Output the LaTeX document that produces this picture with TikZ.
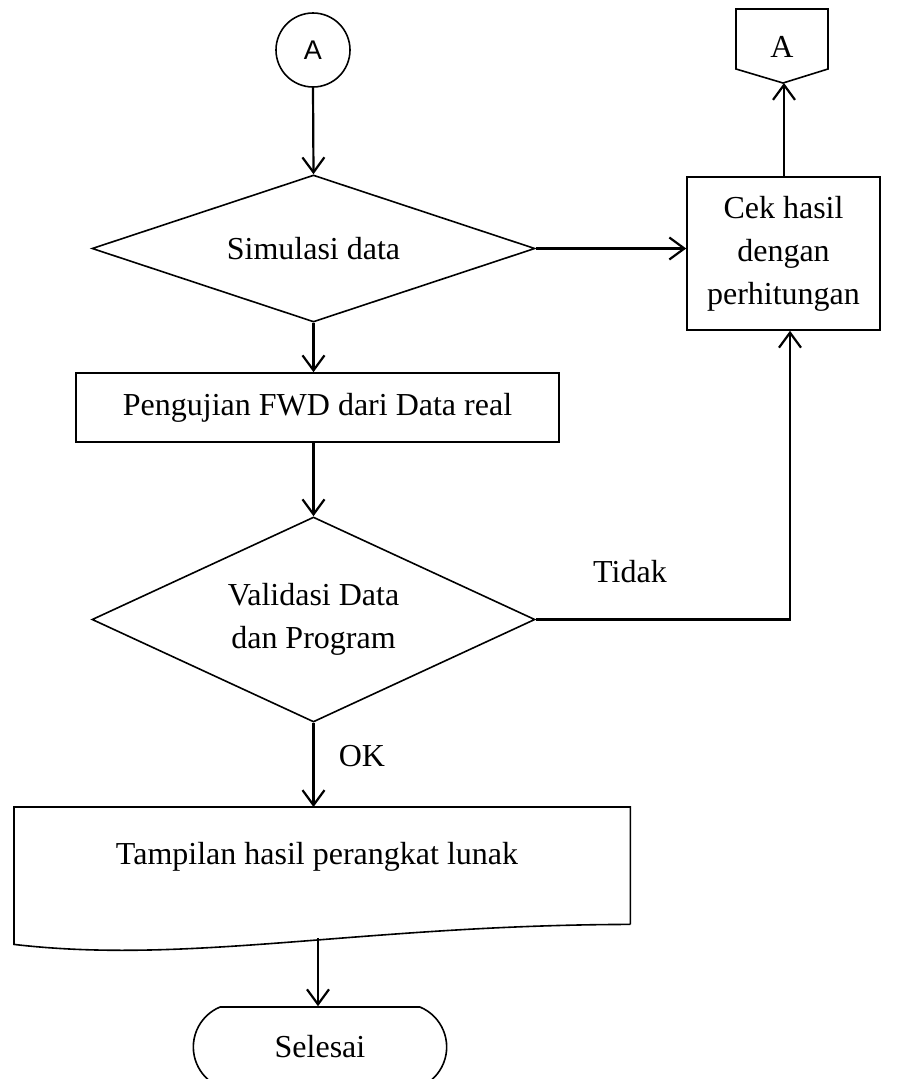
\documentclass[tikz,border=0pt]{standalone}
\usepackage{fontspec}
\setmainfont{Liberation Serif}
\newfontfamily\arialfont{Liberation Sans}
\usetikzlibrary{shapes.geometric,shapes.misc,arrows.meta,calc}
\begin{document}
\begin{tikzpicture}[x=1pt,y=-1pt,
 shapeline/.style={draw=black,line width=1.6pt},
 flowtext/.style={font=\fontsize{32}{43}\selectfont,align=center},
 arr/.style={line width=2.2pt,-{Straight Barb[length=15pt,width=22pt]}},
]
\useasboundingbox (0,0) rectangle (899,1079);
% connector circle
\node[circle, shapeline, minimum size=74pt, inner sep=0pt, font=\arialfont\fontsize{27}{32}\selectfont] (cA) at (313,50) {A};
% decision 1
\node[diamond, shapeline, shape aspect=3, minimum width=443pt, minimum height=147pt, inner sep=0pt, flowtext] (d1) at (313.5,248.5) {Simulasi data};
% check box
\node[rectangle, shapeline, minimum width=193pt, minimum height=153pt, flowtext] (cek) at (783.5,253.5) {Cek hasil\\dengan\\perhitungan};
% off-page connector
\node[flowtext, minimum width=92pt, minimum height=60pt, inner sep=0pt] (off) at (782,47) {A};
\draw[shapeline] (736,9) -- (828,9) -- (828,69) -- (783,83) -- (736,69) -- cycle;
\coordinate (offtip) at (784,83);
% process
\node[rectangle, shapeline, minimum width=483pt, minimum height=69pt, flowtext] (r1) at (317.5,407.5) {Pengujian FWD dari Data real};
% decision 2
\node[diamond, shapeline, shape aspect=2.16, minimum width=443pt, minimum height=205pt, inner sep=0pt, flowtext] (d2) at (313.5,619.5) {Validasi Data\\dan Program};
% document
\node[draw=none, minimum width=616pt, minimum height=117pt, inner sep=0pt, anchor=north west] (doc) at (14,807) {};
\draw[shapeline] (doc.south east) -- (doc.north east) -- (doc.north west) -- ($(doc.south west)+(0,20)$)
  .. controls (190,965) and (360,925) .. (doc.south east);
\node[flowtext] (doct) at (317,857) {Tampilan hasil perangkat lunak};
% terminal
\node[rounded rectangle, rounded rectangle arc length=135, shapeline, minimum width=260pt, minimum height=80pt, flowtext] (end) at (320,1047) {Selesai};
% labels
\node[flowtext] (tidak) at (630,572) {Tidak};
\node[flowtext] (ok) at (362,756) {OK};
% connectors
\draw[arr] (cA.south) -- (d1.north);
\draw[arr] (d1.east) -- (d1.east -| cek.west);
\draw[arr] (cek.north -| offtip) -- (offtip);
\draw[arr] (d1.south) -- (d1.south |- r1.north);
\draw[arr] (r1.south -| d2.north) -- (d2.north);
\coordinate (corner) at (790,619.5);
\draw[arr] (d2.east) -- (corner) -- (cek.south -| corner);
\draw[arr] (d2.south) -- (d2.south |- doc.north);
\coordinate (docout) at (318,938);
\draw[arr] (docout) -- (end.north -| docout);
\end{tikzpicture}
\end{document}
